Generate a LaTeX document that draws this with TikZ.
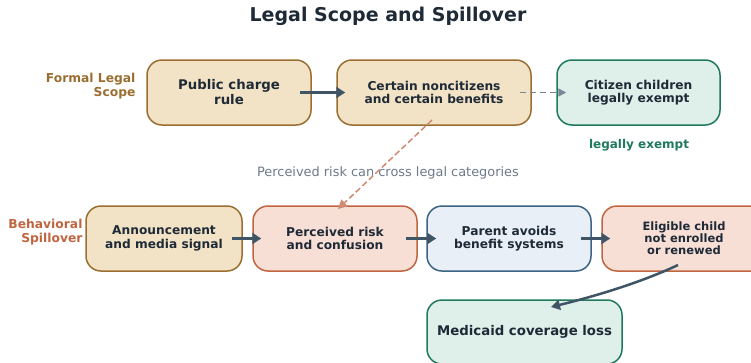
\documentclass[tikz,border=0pt]{standalone}
\usepackage{fontspec}
\setmainfont{DejaVu Sans}
\usetikzlibrary{arrows.meta}
\definecolor{tanfill}{HTML}{F3E3C6}
\definecolor{tanedge}{HTML}{9A6E30}
\definecolor{salfill}{HTML}{F7DFD5}
\definecolor{saledge}{HTML}{C0653F}
\definecolor{bluefill}{HTML}{E8EFF7}
\definecolor{blueedge}{HTML}{3C6382}
\definecolor{grnfill}{HTML}{DFEFE9}
\definecolor{grnedge}{HTML}{1F7A5C}
\definecolor{arrowc}{HTML}{3F5566}
\definecolor{txt}{HTML}{1F2A37}
\definecolor{graytxt}{HTML}{6C7A89}
\definecolor{dashgray}{HTML}{7A8795}
\definecolor{dashsal}{HTML}{D08A72}
\tikzset{
  box/.style={rounded corners=15pt, line width=1.5pt, minimum height=65pt,
    align=center, text=txt, font=\bfseries\fontsize{13.3}{15}\selectfont, inner sep=2pt},
  tanbox/.style={box, fill=tanfill, draw=tanedge},
  salbox/.style={box, fill=salfill, draw=saledge},
  bluebox/.style={box, fill=bluefill, draw=blueedge},
  grnbox/.style={box, fill=grnfill, draw=grnedge},
  mid/.style={font=\bfseries\fontsize{12.2}{13.6}\selectfont},
  flow/.style={draw=arrowc, line width=3pt, -{Triangle[length=9pt,width=11pt]}},
  side/.style={font=\bfseries\fontsize{12.3}{14}\selectfont, align=right, anchor=east}
}
\begin{document}
\begin{tikzpicture}[x=1pt,y=-1pt]
\useasboundingbox (0,0) rectangle (751,362);
\node[font=\bfseries\fontsize{19}{20}\selectfont, text=txt] (title) at (388,16) {Legal Scope and Spillover};

\node[side, text=tanedge] (formal) at (139,86) {Formal Legal\\Scope};
\node[side, text=saledge] (behav) at (86,232) {Behavioral\\Spillover};

\node[tanbox, minimum width=164pt] (pc) at (229,92.5) {Public charge\\rule};
\node[tanbox, mid, minimum width=194pt] (cn) at (434,92.5) {Certain noncitizens\\and certain benefits};
\node[grnbox, mid, minimum width=163pt] (cc) at (638.5,92.5) {Citizen children\\legally exempt};
\node[font=\bfseries\fontsize{12}{13}\selectfont, text=grnedge] (le) at (639,145) {legally exempt};

\node[font=\fontsize{12.9}{14}\selectfont, text=graytxt] (note) at (388,173) {Perceived risk can cross legal categories};

\node[tanbox, mid, minimum width=156pt] (an) at (164,238.5) {Announcement\\and media signal};
\node[salbox, mid, minimum width=164pt] (pr) at (335,238.5) {Perceived risk\\and confusion};
\node[bluebox, mid, minimum width=164pt] (pa) at (509,238.5) {Parent avoids\\benefit systems};
\node[salbox, minimum width=164pt, font=\bfseries\fontsize{11.5}{11.8}\selectfont] (ec) at (684,238.5) {Eligible child\\not enrolled\\or renewed};
\node[grnbox, minimum width=195pt, minimum height=64pt] (md) at (524.5,332) {Medicaid coverage loss};

\draw[flow] ([xshift=-12pt]pc.east) -- ([xshift=9pt]cn.west);
\draw[draw=dashgray, line width=1.5pt, dash pattern=on 6pt off 4pt, -{Triangle[length=8pt,width=8pt]}] ([xshift=-12pt]cn.east) -- ([xshift=10pt]cc.west);
\coordinate (cnb) at (432,120);
\coordinate (prt) at (338,209);
\draw[draw=dashsal, line width=1.5pt, dash pattern=on 6pt off 3pt, -{Triangle[length=9pt,width=9pt]}] (cnb) -- (prt);
\draw[flow] ([xshift=-11pt]an.east) -- ([xshift=9pt]pr.west);
\draw[flow] ([xshift=-12pt]pr.east) -- ([xshift=10pt]pa.west);
\draw[flow] ([xshift=-11pt]pa.east) -- ([xshift=9pt]ec.west);
\coordinate (ecb) at (678,265);
\coordinate (mdt) at (551,307);
\draw[draw=arrowc, line width=2.5pt, -{Triangle[length=9pt,width=10pt]}] (ecb) .. controls (640,283) and (592,297) .. (mdt);
\end{tikzpicture}
\end{document}
